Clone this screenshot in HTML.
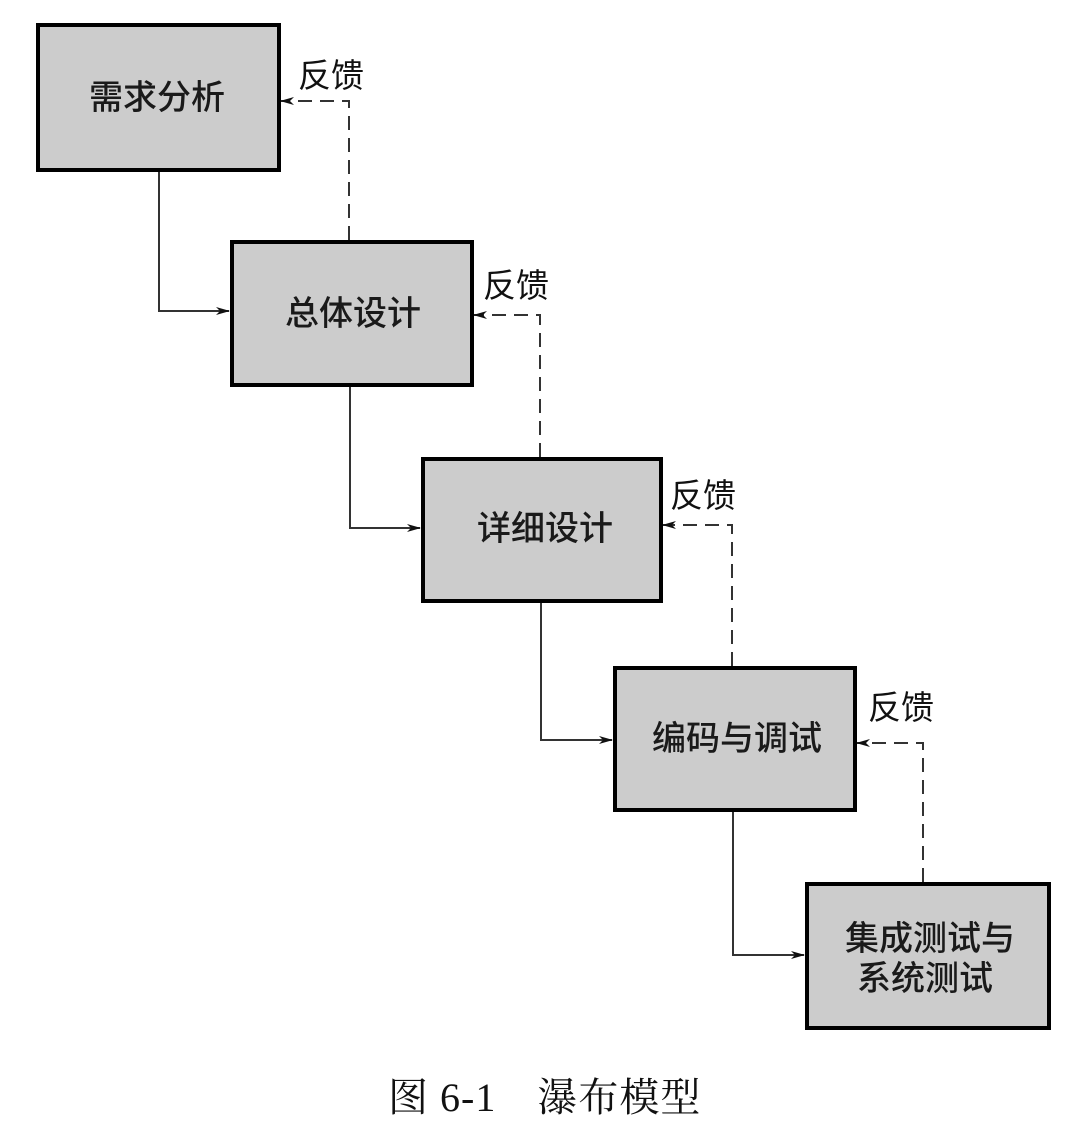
<!DOCTYPE html>
<html><head><meta charset="utf-8"><style>
html,body{margin:0;padding:0;background:#fff;width:1076px;height:1124px;overflow:hidden}
svg{display:block}
.t{font-family:"Liberation Sans","Noto Sans CJK SC",sans-serif;font-size:34px;fill:#1a1a1a;font-weight:500}
.f{font-family:"Liberation Sans","Noto Sans CJK SC",sans-serif;font-size:33px;fill:#111}
.c{font-family:"Liberation Serif","Noto Serif CJK SC",serif;font-size:40px;fill:#111;letter-spacing:1px}
</style></head><body>
<svg width="1076" height="1124" viewBox="0 0 1076 1124" xmlns="http://www.w3.org/2000/svg">
<defs>
<marker id="a" markerWidth="14" markerHeight="10" refX="13" refY="5" orient="auto" markerUnits="userSpaceOnUse">
<path d="M0,1 L14,5 L0,9 L4,5 Z" fill="#111"/></marker>
</defs>
<g fill="none" stroke="#333" stroke-width="2">
<polyline points="159,171 159,311 229,311" marker-end="url(#a)"/>
<polyline points="350,386 350,528 420,528" marker-end="url(#a)"/>
<polyline points="541,602 541,740 612,740" marker-end="url(#a)"/>
<polyline points="733,811 733,955 804,955" marker-end="url(#a)"/>
</g>
<g fill="none" stroke="#333" stroke-width="2" stroke-dasharray="14,8">
<polyline points="349,240 349,101 281,101" marker-end="url(#a)"/>
<polyline points="540,457 540,315 474,315" marker-end="url(#a)"/>
<polyline points="732,666 732,525 663,525" marker-end="url(#a)"/>
<polyline points="923,882 923,743 857,743" marker-end="url(#a)"/>
</g>
<g fill="#cccccc" stroke="#000" stroke-width="4">
<rect x="38" y="25" width="241" height="145"/>
<rect x="232" y="242" width="240" height="143"/>
<rect x="423" y="459" width="238" height="142"/>
<rect x="615" y="668" width="240" height="142"/>
<rect x="807" y="884" width="242" height="144"/>
</g>
<g class="t" text-anchor="middle">
<text x="157" y="109">需求分析</text>
<text x="353" y="325">总体设计</text>
<text x="545" y="540">详细设计</text>
<text x="737" y="750">编码与调试</text>
<text x="930" y="950">集成测试与</text>
<text x="925" y="990">系统测试</text>
</g>
<g class="f">
<text x="298" y="87">反馈</text>
<text x="483" y="297">反馈</text>
<text x="670" y="507">反馈</text>
<text x="868" y="719">反馈</text>
</g>
<text class="c" x="388" y="1111">图 6-1　瀑布模型</text>
</svg>
</body></html>
